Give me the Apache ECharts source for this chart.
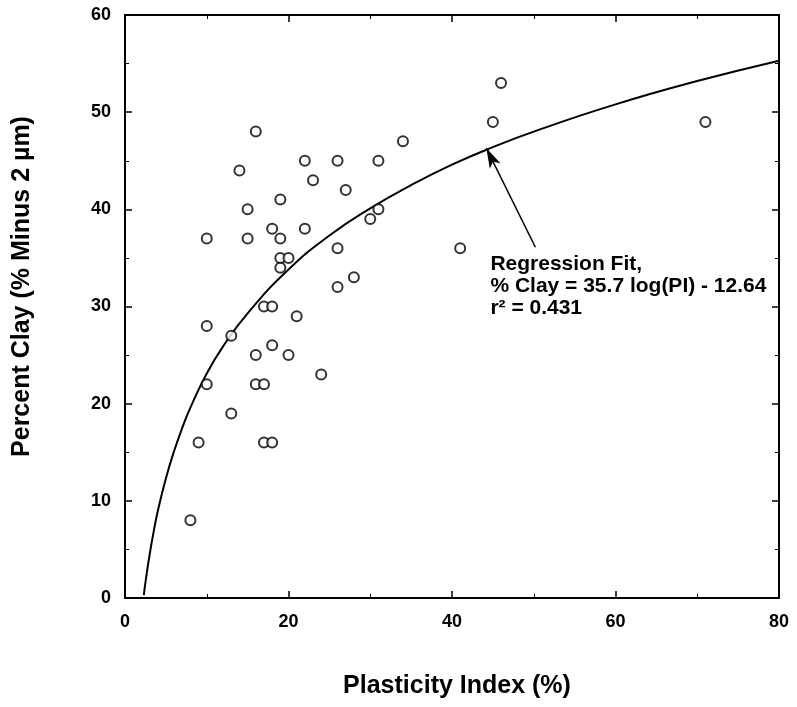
<!DOCTYPE html>
<html>
<head>
<meta charset="utf-8">
<script src="https://cdn.jsdelivr.net/npm/echarts@6/dist/echarts.min.js"></script>
<style>html,body{margin:0;padding:0;background:#fff}#c{width:797px;height:707px}</style>
</head>
<body>
<div id="c"></div>
<script>
// Measured points: plasticity index (%) and percent clay
var piValues   = [16,14,22,26,31,34,23,27,19,15,31,30,10,15,18,19,22,19,20,19,26,28,26,17,18,21,10,13,18,16,20,24,10,16,17,13,9,17,18,8,46,45,71,41];
var clayValues = [48,44,45,45,45,47,43,42,41,40,40,39,37,37,38,37,38,35,35,34,36,33,32,30,30,29,28,27,26,25,25,23,22,22,22,19,16,16,16,8,53,49,49,36];
// Regression curve
var fitX = [2.3,2.6,3,3.5,4,5,6,7,8,10,12,15,20,25,30,35,40,45,50,60,70,80];
var fitY = [0.3,2.2,4.4,6.8,8.9,12.3,15.1,17.5,19.6,23.1,25.9,29.3,33.8,37.3,40.1,42.5,44.6,46.4,48.0,50.8,53.2,55.3];
// Annotation arrow (data units): tail and tip
var arrowFrom = [50.2, 36.1];
var arrowTo = [44.2, 46.3];
var noteLines = ['Regression Fit,', '% Clay = 35.7 log(PI) - 12.64', 'r\u00B2 = 0.431'];

var scatterData = piValues.map(function(v,i){return [v, clayValues[i]];});
var fitData = fitX.map(function(v,i){return [v, fitY[i]];});

var chart = echarts.init(document.getElementById('c'), null, {renderer:'canvas'});
var font = 'Liberation Sans, Arial, Helvetica, sans-serif';
var axisCommon = {
  axisLine:{show:true, onZero:false, lineStyle:{color:'#000', width:2}},
  axisTick:{show:true, inside:true, length:7, lineStyle:{color:'#000', width:1.5}},
  minorTick:{show:true, splitNumber:2, length:4, lineStyle:{color:'#000', width:1}},
  splitLine:{show:false},
  minorSplitLine:{show:false}
};
function ax(extra){ return Object.assign({}, JSON.parse(JSON.stringify(axisCommon)), extra); }

chart.setOption({
  animation:false,
  backgroundColor:'#fff',
  grid:{left:125, right:18, top:15, bottom:109, containLabel:false},
  xAxis:[
    ax({type:'value', min:0, max:80, interval:20, position:'bottom',
      axisLabel:{color:'#000', fontSize:18, fontWeight:'bold', fontFamily:font, margin:15},
      name:'Plasticity Index (%)', nameLocation:'middle', nameGap:76,
      nameTextStyle:{color:'#000', fontSize:25, fontWeight:'bold', fontFamily:font, padding:[0,0,0,10]}}),
    ax({type:'value', min:0, max:80, interval:20, position:'top', axisLabel:{show:false}})
  ],
  yAxis:[
    ax({type:'value', min:0, max:60, interval:10, position:'left',
      axisLabel:{color:'#000', fontSize:18, fontWeight:'bold', fontFamily:font, margin:14},
      name:'Percent Clay (% Minus 2 \u00B5m)', nameLocation:'middle', nameGap:90,
      nameTextStyle:{color:'#000', fontSize:25, fontWeight:'bold', fontFamily:font, padding:[0,0,0,40]}}),
    ax({type:'value', min:0, max:60, interval:10, position:'right', axisLabel:{show:false}})
  ],
  series:[
    {type:'line', data:fitData, smooth:true, showSymbol:false, symbol:'none',
     lineStyle:{color:'#000', width:2}, z:2,
     markLine:{silent:true, symbol:['none','arrow'], symbolSize:[9,20],
       lineStyle:{color:'#000', width:1.5, type:'solid'}, label:{show:false},
       data:[[{coord:arrowFrom},{coord:arrowTo}]]}},
    {type:'scatter', data:scatterData, symbol:'circle', symbolSize:10,
     itemStyle:{color:'#fff', borderColor:'#000', borderWidth:2}, z:3}
  ]
});

var p = chart.convertToPixel({gridIndex:0}, arrowFrom);
chart.setOption({
  graphic:[{type:'text', left:p[0]-45, top:p[1]+6,
    style:{text:noteLines.join('\n'), font:'bold 21px ' + font, fill:'#000', lineHeight:22}}]
});
</script>
</body>
</html>
